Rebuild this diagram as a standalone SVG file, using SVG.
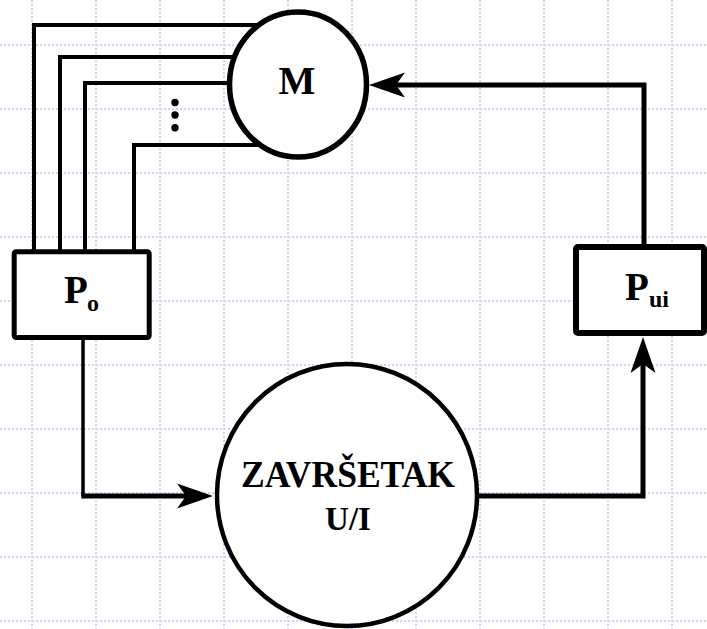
<svg xmlns="http://www.w3.org/2000/svg" width="707" height="629" viewBox="0 0 707 629">
<style>
.grid line{stroke:#c9d6f8;stroke-width:2;stroke-dasharray:2 2}
.wire{fill:none;stroke:#000;stroke-width:4}
.conn{fill:none;stroke:#000;stroke-width:5}
.node{fill:#fff;stroke:#000}
.lbl{font-family:"Liberation Serif","Times New Roman",serif;font-weight:bold;fill:#000}
</style>
<defs>
<marker id="arr" viewBox="0 -13 37 26" markerWidth="37" markerHeight="26" refX="9" refY="0" markerUnits="userSpaceOnUse" orient="auto" overflow="visible">
<path d="M0,-12.5 L36,0 L0,12.5 L9,0 Z" fill="#000"/>
</marker>
</defs>
<rect width="707" height="629" fill="#fff"/>
<g class="grid">
<line x1="32" y1="0" x2="32" y2="629"/><line x1="96" y1="0" x2="96" y2="629"/><line x1="160" y1="0" x2="160" y2="629"/><line x1="224" y1="0" x2="224" y2="629"/><line x1="288" y1="0" x2="288" y2="629"/><line x1="352" y1="0" x2="352" y2="629"/><line x1="416" y1="0" x2="416" y2="629"/><line x1="480" y1="0" x2="480" y2="629"/><line x1="544" y1="0" x2="544" y2="629"/><line x1="608" y1="0" x2="608" y2="629"/><line x1="672" y1="0" x2="672" y2="629"/>
<line x1="0" y1="45" x2="707" y2="45"/><line x1="0" y1="109" x2="707" y2="109"/><line x1="0" y1="173" x2="707" y2="173"/><line x1="0" y1="237" x2="707" y2="237"/><line x1="0" y1="301" x2="707" y2="301"/><line x1="0" y1="365" x2="707" y2="365"/><line x1="0" y1="429" x2="707" y2="429"/><line x1="0" y1="493" x2="707" y2="493"/><line x1="0" y1="557" x2="707" y2="557"/><line x1="0" y1="621" x2="707" y2="621"/>
</g>
<g id="connectors">
<path class="wire" d="M34,252 V25 H290"/>
<path class="wire" d="M60,252 V57 H290"/>
<path class="wire" d="M85,252 V83 H290"/>
<path class="wire" d="M134,252 V145 H290"/>
<g fill="#000"><circle cx="175" cy="102.5" r="3.7"/><circle cx="175" cy="115" r="3.7"/><circle cx="175" cy="127.7" r="3.7"/></g>
<path class="wire" style="stroke-width:3.5" d="M83,338 V496"/>
<path class="conn" d="M81.3,496 H186" marker-end="url(#arr)"/>
<path class="conn" d="M477,496 H643 V364" marker-end="url(#arr)"/>
<path class="conn" d="M644,246 V85 H396" marker-end="url(#arr)"/>
</g>
<g id="node-M">
<ellipse class="node" cx="298" cy="84.5" rx="68.5" ry="72.5" stroke-width="5.5"/>
<text class="lbl" x="297" y="94" font-size="39" text-anchor="middle">M</text>
</g>
<g id="node-Po">
<rect class="node" x="14.2" y="251.8" width="135" height="85.7" rx="2" stroke-width="5"/>
<text class="lbl" font-size="39"><tspan x="64" y="303">P</tspan><tspan x="87" y="310.7" font-size="24">o</tspan></text>
</g>
<g id="node-Pui">
<rect class="node" x="576" y="247" width="128" height="86" rx="2" stroke-width="6"/>
<text class="lbl" font-size="39"><tspan x="625" y="300">P</tspan><tspan x="649" y="306.7" font-size="24">ui</tspan></text>
</g>
<g id="node-zavrsetak">
<ellipse class="node" cx="347" cy="495" rx="130" ry="131" stroke-width="4.5"/>
<text class="lbl" x="348" y="486.7" font-size="37" text-anchor="middle" textLength="214" lengthAdjust="spacingAndGlyphs">ZAVRŠETAK</text>
<text class="lbl" x="348" y="529.5" font-size="33" text-anchor="middle">U/I</text>
</g>
</svg>
